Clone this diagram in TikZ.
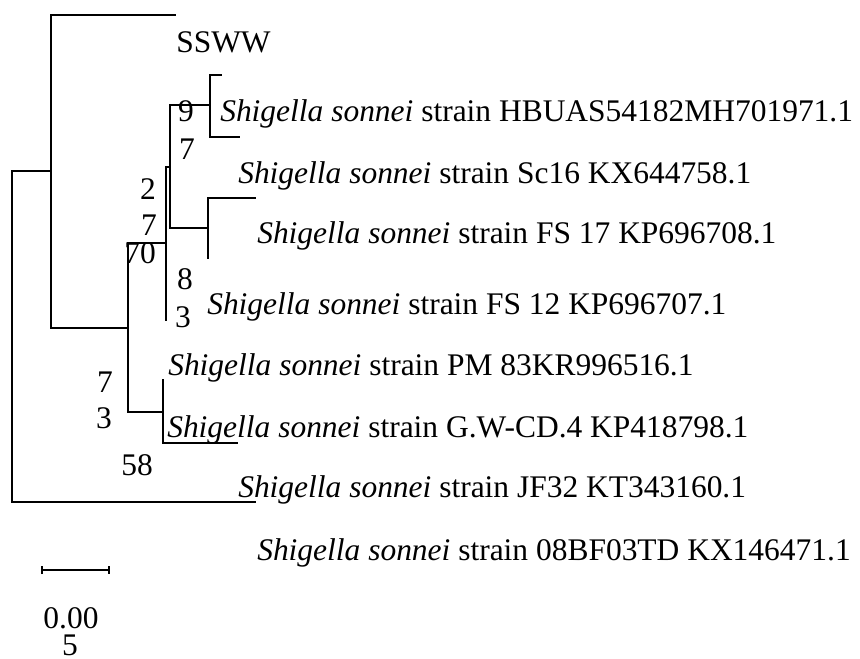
\documentclass[tikz,border=0pt]{standalone}
\usepackage{fontspec}
\setmainfont{Liberation Serif}
\usetikzlibrary{arrows.meta}

\begin{document}
\begin{tikzpicture}[
    x=0.75pt, y=-0.75pt,
    branch/.style={draw, line width=1.2pt, line cap=rect},
    taxon/.style={anchor=base west, inner sep=0pt, font=\fontsize{23.6}{28}\selectfont},
    boot/.style={anchor=base, inner sep=0pt, font=\fontsize{23.6}{28}\selectfont},
    scalebar/.style={draw, line width=1.2pt, {Bar[width=6pt]}-{Bar[width=6pt]}}
]
\useasboundingbox (0,0) rectangle (860,659);

% ---- titik cabang (x = panjang cabang, y = posisi) ----
\coordinate (r)   at (12,171);
\coordinate (nA)  at (51,171);
\coordinate (nB)  at (128,328);
\coordinate (nC)  at (163,412);
\coordinate (nD)  at (166,243);
\coordinate (nE)  at (170,167);
\coordinate (nF)  at (210,105);
\coordinate (nG)  at (208,228);

% ---- ujung daun ----
\coordinate (tSSWW) at (175,15);
\coordinate (tHB)   at (221,75);
\coordinate (tHBb)  at (239,137);
\coordinate (tSc)   at (255,198);
\coordinate (tFS17) at (208,258);
\coordinate (tFS12) at (166,320);
\coordinate (tPM)   at (163,380);
\coordinate (tGW)   at (237,443);
\coordinate (tJF)   at (255,502);

% ---- cabang pohon ----
\draw[branch] (nA) -- (r) |- (tJF);
\draw[branch] (tSSWW) -| (nA) |- (nB);
\draw[branch] (nD) -| (nB) |- (nC);
\draw[branch] (tPM) -- (nC) |- (tGW);
\draw[branch] (nE) -| (nD) -- (tFS12);
\draw[branch] (nF) -| (nE) |- (nG);
\draw[branch] (tHB) -| (nF) |- (tHBb);
\draw[branch] (tSc) -| (nG) -- (tFS17);

% ---- nama taksa ----
\node[taxon] (lSSWW) at (176,53)  {SSWW};
\node[taxon] (lHB)   at (220,122) {\textit{Shigella sonnei} strain HBUAS54182MH701971.1};
\node[taxon] (lSc)   at (238,184) {\textit{Shigella sonnei} strain Sc16 KX644758.1};
\node[taxon] (lFS17) at (257,244) {\textit{Shigella sonnei} strain FS 17 KP696708.1};
\node[taxon] (lFS12) at (207,315) {\textit{Shigella sonnei} strain FS 12 KP696707.1};
\node[taxon] (lPM)   at (168,375) {\textit{Shigella sonnei} strain PM 83KR996516.1};
\node[taxon] (lGW)   at (167,437) {\textit{Shigella sonnei} strain G.W-CD.4 KP418798.1};
\node[taxon] (lJF)   at (238,497) {\textit{Shigella sonnei} strain JF32 KT343160.1};
\node[taxon] (lBF)   at (257,560) {\textit{Shigella sonnei} strain 08BF03TD KX146471.1};

% ---- nilai bootstrap ----
\node[boot] (b97a) at (186,122) {9};
\node[boot] (b97b) at (187,160) {7};
\node[boot] (b27a) at (148,200) {2};
\node[boot] (b27b) at (149,236) {7};
\node[boot] (b70)  at (140,264) {70};
\node[boot] (b83a) at (185,290) {8};
\node[boot] (b83b) at (183,327) {3};
\node[boot] (b73a) at (105,392) {7};
\node[boot] (b73b) at (104,428) {3};
\node[boot] (b58)  at (137,475) {58};

% ---- skala ----
\coordinate (sbL) at (41,570);
\coordinate (sbR) at (110,570);
\draw[scalebar] (sbL) -- (sbR);
\node[boot] (sbA) at (71,628) {0.00};
\node[boot] (sbB) at (70,655) {5};

\end{tikzpicture}
\end{document}
